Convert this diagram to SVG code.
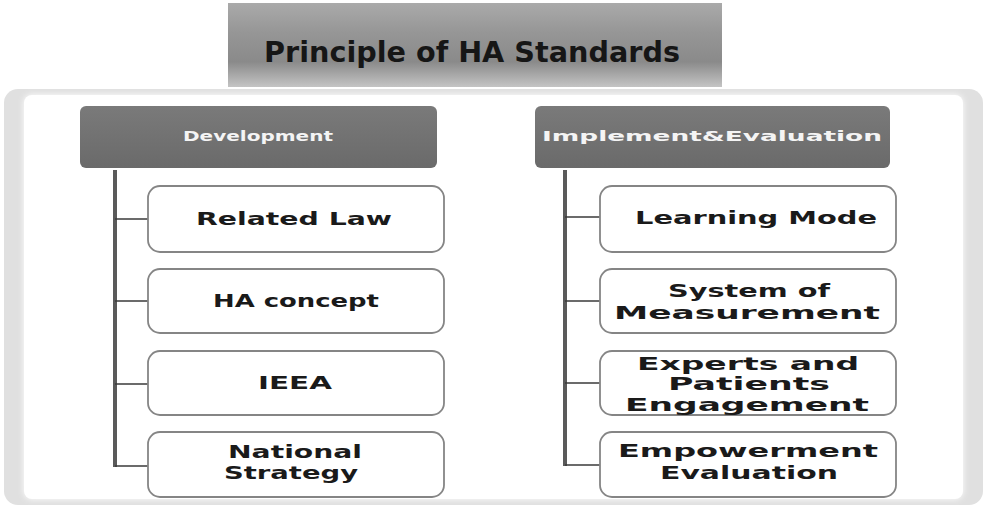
<svg xmlns="http://www.w3.org/2000/svg" width="987" height="510" viewBox="0 0 987 510">
  <defs>
    <linearGradient id="bannerFill" x1="0" y1="0" x2="0" y2="1">
      <stop offset="0" stop-color="#aaaaaa"/>
      <stop offset="0.35" stop-color="#969696"/>
      <stop offset="0.7" stop-color="#8a8a8a"/>
      <stop offset="1" stop-color="#c4c4c4"/>
    </linearGradient>
    <linearGradient id="headFill" x1="0" y1="0" x2="0" y2="1">
      <stop offset="0" stop-color="#7a7a7a"/>
      <stop offset="1" stop-color="#6a6a6a"/>
    </linearGradient>
    <filter id="soft" x="-5%" y="-5%" width="110%" height="110%">
      <feGaussianBlur stdDeviation="3"/>
    </filter>
  </defs>
  <style>
    .title { font-family: "DejaVu Sans", "Liberation Sans", sans-serif; font-weight: bold; font-size: 28px; fill: #161616; }
    .head { fill: url(#headFill); }
    .headText { font-family: "DejaVu Sans", "Liberation Sans", sans-serif; font-weight: bold; font-size: 14px; fill: #f4f4f4; }
    .box { fill: #ffffff; stroke: #858585; stroke-width: 1.8; }
    .label { font-family: "DejaVu Sans", "Liberation Sans", sans-serif; font-weight: bold; font-size: 18px; fill: #1a1a1a; text-anchor: middle; }
    .trunk { stroke: #5a5a5a; stroke-width: 4; fill: none; }
    .branch { stroke: #3a3a3a; stroke-width: 1.5; fill: none; }
  </style>

  <rect width="987" height="510" fill="#ffffff"/>

  <!-- outer panel with soft grey rim -->
  <g id="panel">
    <rect x="4" y="89" width="979" height="416" rx="14" fill="#e0e0e0"/>
    <rect x="24" y="95" width="939" height="404" rx="8" fill="#ffffff" filter="url(#soft)"/>
    <rect x="24" y="95" width="939" height="404" rx="8" fill="#ffffff"/>
  </g>

  <!-- title banner -->
  <g id="title">
    <rect x="228" y="3" width="494" height="84" fill="url(#bannerFill)"/>
    <text class="title" x="472" y="62" text-anchor="middle" textLength="416" lengthAdjust="spacingAndGlyphs">Principle of HA Standards</text>
  </g>

  <!-- connectors -->
  <g id="connectors">
    <line class="trunk" x1="115" y1="170" x2="115" y2="467"/>
    <line class="branch" x1="115" y1="219" x2="148" y2="219"/>
    <line class="branch" x1="115" y1="301" x2="148" y2="301"/>
    <line class="branch" x1="115" y1="384" x2="148" y2="384"/>
    <line class="branch" x1="115" y1="466" x2="148" y2="466"/>
    <line class="trunk" x1="565" y1="170" x2="565" y2="466"/>
    <line class="branch" x1="565" y1="217" x2="600" y2="217"/>
    <line class="branch" x1="565" y1="301" x2="600" y2="301"/>
    <line class="branch" x1="565" y1="383" x2="600" y2="383"/>
    <line class="branch" x1="565" y1="465" x2="600" y2="465"/>
  </g>

  <!-- left column -->
  <g id="development">
    <rect class="head" x="80" y="106" width="357" height="62" rx="6"/>
    <text class="headText" x="258" y="141" text-anchor="middle" textLength="150" lengthAdjust="spacingAndGlyphs">Development</text>
  </g>
  <g id="related-law">
    <rect class="box" x="148" y="186" width="296" height="66" rx="12"/>
    <text class="label" x="294" y="225" textLength="196" lengthAdjust="spacingAndGlyphs">Related Law</text>
  </g>
  <g id="ha-concept">
    <rect class="box" x="148" y="269" width="296" height="64" rx="12"/>
    <text class="label" x="296" y="307" textLength="166" lengthAdjust="spacingAndGlyphs">HA concept</text>
  </g>
  <g id="ieea">
    <rect class="box" x="148" y="351" width="296" height="64" rx="12"/>
    <text class="label" x="295" y="389" textLength="74" lengthAdjust="spacingAndGlyphs">IEEA</text>
  </g>
  <g id="national-strategy">
    <rect class="box" x="148" y="432" width="296" height="65" rx="12"/>
    <text class="label" x="295" y="458" textLength="134" lengthAdjust="spacingAndGlyphs">National</text>
    <text class="label" x="291" y="479" textLength="134" lengthAdjust="spacingAndGlyphs">Strategy</text>
  </g>

  <!-- right column -->
  <g id="implement-evaluation">
    <rect class="head" x="535" y="106" width="355" height="62" rx="6"/>
    <text class="headText" x="712" y="141" text-anchor="middle" textLength="340" lengthAdjust="spacingAndGlyphs">Implement&amp;Evaluation</text>
  </g>
  <g id="learning-mode">
    <rect class="box" x="600" y="186" width="296" height="66" rx="12"/>
    <text class="label" x="756" y="224" textLength="242" lengthAdjust="spacingAndGlyphs">Learning Mode</text>
  </g>
  <g id="system-of-measurement">
    <rect class="box" x="600" y="269" width="296" height="64" rx="12"/>
    <text class="label" x="749" y="297" textLength="162" lengthAdjust="spacingAndGlyphs">System of</text>
    <text class="label" x="747" y="319" textLength="266" lengthAdjust="spacingAndGlyphs">Measurement</text>
  </g>
  <g id="experts-patients">
    <rect class="box" x="600" y="351" width="296" height="64" rx="12"/>
    <text class="label" x="748" y="370" textLength="222" lengthAdjust="spacingAndGlyphs">Experts and</text>
    <text class="label" x="749" y="390" textLength="162" lengthAdjust="spacingAndGlyphs">Patients</text>
    <text class="label" x="747" y="411" textLength="244" lengthAdjust="spacingAndGlyphs">Engagement</text>
  </g>
  <g id="empowerment-evaluation">
    <rect class="box" x="600" y="432" width="296" height="65" rx="12"/>
    <text class="label" x="748" y="457" textLength="260" lengthAdjust="spacingAndGlyphs">Empowerment</text>
    <text class="label" x="749" y="479" textLength="178" lengthAdjust="spacingAndGlyphs">Evaluation</text>
  </g>
</svg>
